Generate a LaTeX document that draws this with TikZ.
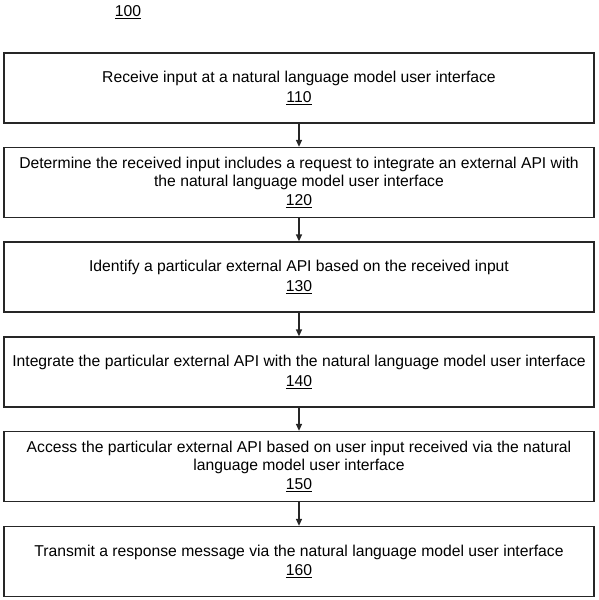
\documentclass[tikz,border=0pt]{standalone}
\usepackage{fontspec}
\setmainfont{Liberation Sans}
\usetikzlibrary{arrows.meta}
\begin{document}
\begin{tikzpicture}[x=1pt,y=-1pt,
  stepbox/.style={draw=black!85,line width=1.3pt,minimum width=590pt,minimum height=70pt,inner sep=0pt,align=center,font=\fontsize{15.7}{17.5}\selectfont,anchor=center},
  conn/.style={draw=black!85,line width=1.3pt,-{Triangle[length=7pt,width=6pt]}}]
\useasboundingbox (0,0) rectangle (598,600);
\node[font=\fontsize{15.7}{17.5}\selectfont] (lbl) at (128,12) {\underline{100}};
\node[stepbox] (b1) at (299,88) {Receive input at a natural language model user interface\\[2pt]\underline{110}};
\node[stepbox] (b2) at (299,182.5) {Determine the received input includes a request to integrate an external API with\\the natural language model user interface\\[2pt]\underline{120}};
\node[stepbox] (b3) at (299,277) {Identify a particular external API based on the received input\\[2pt]\underline{130}};
\node[stepbox] (b4) at (299,372) {Integrate the particular external API with the natural language model user interface\\[2pt]\underline{140}};
\node[stepbox] (b5) at (299,466.5) {Access the particular external API based on user input received via the natural\\language model user interface\\[2pt]\underline{150}};
\node[stepbox] (b6) at (299,561.5) {Transmit a response message via the natural language model user interface\\[2pt]\underline{160}};
\draw[conn] (b1) -- (b2);
\draw[conn] (b2) -- (b3);
\draw[conn] (b3) -- (b4);
\draw[conn] (b4) -- (b5);
\draw[conn] (b5) -- (b6);
\end{tikzpicture}
\end{document}
